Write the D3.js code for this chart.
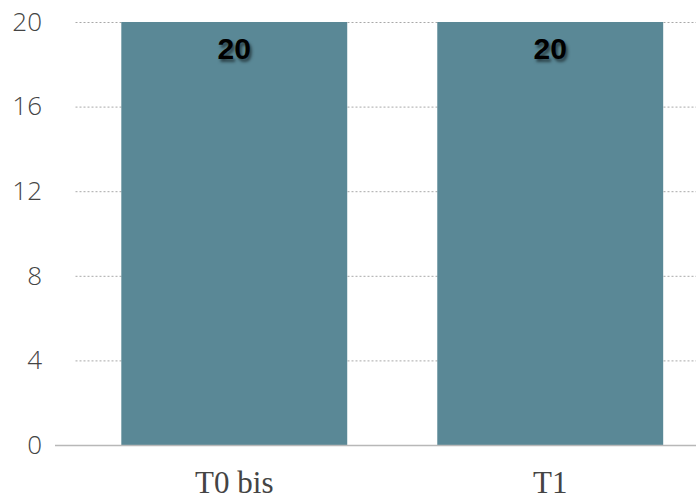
<!DOCTYPE html>
<html>
<head>
<meta charset="utf-8">
<script src="https://cdn.jsdelivr.net/npm/d3@7"></script>
<style>
  body { margin: 0; background: #fff; }
  svg { display: block; }
  .xlab { font-family: "Liberation Serif", "Times New Roman", Times, serif; }
</style>
</head>
<body>
<div id="graph"></div>
<script>
var categories = ["T0 bis", "T1"];
var values = [20, 20];
var yTicks = [0, 4, 8, 12, 16, 20];

var width = 696;
var height = 499;
var margin = {top: 22, left: 75.5, bottom: 54};

var svg = d3.select("#graph").
append("svg").
attr("width", width).
attr("height", height);

var x = d3.scaleBand().
domain(categories).
range([margin.left, 709]).
paddingInner(0.285).
paddingOuter(0.145);

var y = d3.scaleLinear().
domain([0, 20]).
range([height - margin.bottom, margin.top]);

// dotted grid
svg.append("g").
selectAll("line").
data(yTicks.filter(function (d) {return d > 0;})).
enter().
append("line").
attr("x1", margin.left).
attr("x2", width).
attr("y1", function (d) {return y(d) + 0.5;}).
attr("y2", function (d) {return y(d) + 0.5;}).
attr("stroke", "#a8a8a8").
attr("stroke-width", 1).
attr("stroke-dasharray", "2,2");

// y tick labels
var yAxis = svg.append("g").
attr("transform", "translate(42,0)").
call(d3.axisLeft(y).tickValues(yTicks).tickSize(0).tickPadding(0));
yAxis.select(".domain").remove();
yAxis.selectAll("text").
attr("font-family", "'Open Sans', Roboto, sans-serif").
attr("font-weight", 300).
attr("font-size", 26).
attr("fill", "#444");

// bars
svg.append("g").
selectAll("rect").
data(values).
enter().
append("rect").
attr("x", function (d, i) {return x(categories[i]);}).
attr("width", x.bandwidth()).
attr("y", function (d) {return y(d);}).
attr("height", function (d) {return y(0) - y(d);}).
attr("fill", "#5a8896");

// baseline
svg.append("line").
attr("x1", 55).
attr("x2", width).
attr("y1", y(0) + 0.5).
attr("y2", y(0) + 0.5).
attr("stroke", "#b8b8b8").
attr("stroke-width", 1.5);

// value labels
svg.append("g").
selectAll("text").
data(values).
enter().
append("text").
attr("x", function (d, i) {return x(categories[i]) + x.bandwidth() / 2;}).
attr("y", function (d) {return y(d) + 37;}).
attr("text-anchor", "middle").
attr("font-family", "'Liberation Sans', Arial, sans-serif").
attr("font-weight", "bold").
attr("font-size", 30).
attr("fill", "#000").
style("text-shadow", "2px 3px 3px rgba(0,0,0,0.5)").
text(function (d) {return d;});

// x labels
var xAxis = svg.append("g").
attr("transform", "translate(0," + y(0) + ")").
call(d3.axisBottom(x).tickSize(0).tickPadding(0));
xAxis.select(".domain").remove();
xAxis.attr("font-family", null);
xAxis.selectAll("text").
attr("class", "xlab").
attr("dy", 0).
attr("y", 48).
attr("font-size", 31).
attr("fill", "#444");
</script>
</body>
</html>
